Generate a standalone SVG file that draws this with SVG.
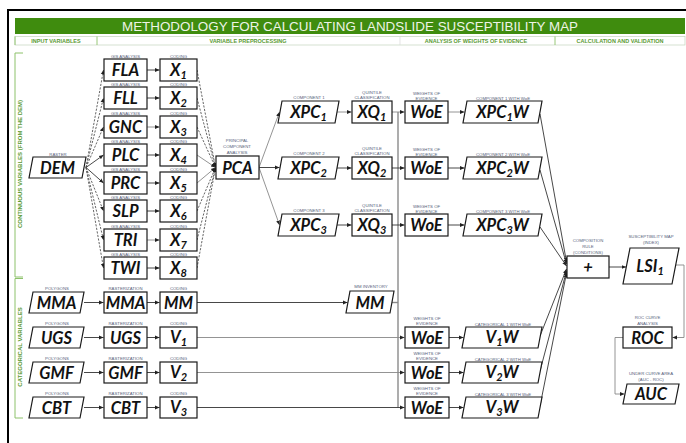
<svg xmlns="http://www.w3.org/2000/svg" width="686" height="443" viewBox="0 0 686 443">
<defs>
<style>
.box{fill:#fff;stroke:#1a1a1a;stroke-width:1.2}
.lbl{font-family:Lato,"Liberation Sans",sans-serif;font-weight:bold;font-style:italic;font-size:16.5px;text-anchor:middle;fill:#111}
.sub{font-size:11px}
.cap{font-family:"Liberation Sans",Arial,sans-serif;font-size:4.3px;text-anchor:middle;fill:#55607a}
.hdr{font-family:"Liberation Sans",Arial,sans-serif;font-weight:bold;font-size:5.5px;text-anchor:middle;fill:#5a9a32}
.side{font-family:"Liberation Sans",Arial,sans-serif;font-weight:bold;font-size:6px;text-anchor:middle;fill:#5a9a32}
.con{fill:none;stroke:#333;stroke-width:0.9;marker-end:url(#ah)}
.dash{stroke-dasharray:2.2 1.4;stroke:#555}
.lt{stroke:#888}
.bus{fill:none;stroke:#8a8a8a;stroke-width:1.4}
</style>
<marker id="ah" markerWidth="5" markerHeight="5" refX="4.5" refY="2.5" orient="auto" markerUnits="userSpaceOnUse">
<path d="M0,0.6 L4.5,2.5 L0,4.4 Z" fill="#222"/>
</marker>
</defs>

<rect x="0" y="0" width="686" height="443" fill="#fff"/>
<rect x="8" y="10" width="690" height="450" fill="none" stroke="#000" stroke-width="2"/>

<g id="title">
<rect x="15" y="18" width="670" height="16" fill="#3f8c0e"/>
<text x="350" y="30.5" font-family="Liberation Sans, Arial, sans-serif" font-size="13.3" fill="#eef4e6" text-anchor="middle" textLength="456" lengthAdjust="spacingAndGlyphs">METHODOLOGY FOR CALCULATING LANDSLIDE SUSCEPTIBILITY MAP</text>
</g>

<g id="header">
<rect x="15" y="36.5" width="670" height="8.5" fill="none" stroke="#c4d4bc" stroke-width="0.7"/>
<path d="M15,36.5 V45 M97,36.5 V45 M555,36.5 V45" stroke="#8dc26a" stroke-width="0.9"/>
<path d="M400,36.5 V45" stroke="#d8d8d8" stroke-width="0.7"/>
<text class="hdr" x="56" y="43">INPUT VARIABLES</text>
<text class="hdr" x="248" y="43">VARIABLE PREPROCESSING</text>
<text class="hdr" x="476" y="43">ANALYSIS OF WEIGHTS OF EVIDENCE</text>
<text class="hdr" x="620" y="43">CALCULATION AND VALIDATION</text>
</g>

<g id="side-labels">
<path d="M23,53 H15 V277 H23" fill="none" stroke="#8dc26a" stroke-width="1"/>
<path d="M23,278.5 H15 V418 H23" fill="none" stroke="#8dc26a" stroke-width="1"/>
<text class="side" transform="translate(22,164) rotate(-90)">CONTINUOUS VARIABLES (FROM THE DEM)</text>
<text class="side" transform="translate(22,347) rotate(-90)">CATEGORICAL VARIABLES</text>
</g>

<g id="connectors">
<path class="con dash" d="M86,167.5 L103.5,70"/>
<path class="con dash" d="M86,167.5 L103.5,98"/>
<path class="con dash" d="M86,167.5 L103.5,127"/>
<path class="con" d="M86,167.5 L103.5,155"/>
<path class="con" d="M86,167.5 L103.5,183"/>
<path class="con dash" d="M86,167.5 L103.5,211"/>
<path class="con dash" d="M86,167.5 L103.5,240"/>
<path class="con dash" d="M86,167.5 L103.5,268"/>
<path class="con" d="M147,70 H159.5"/>
<path class="con" d="M147,98 H159.5"/>
<path class="con lt" d="M147,127 H159.5"/>
<path class="con" d="M147,155 H159.5"/>
<path class="con" d="M147,183 H159.5"/>
<path class="con" d="M147,211 H159.5"/>
<path class="con lt" d="M147,240 H159.5"/>
<path class="con" d="M147,268 H159.5"/>
<path class="con dash" d="M197,70 L215.5,167.5"/>
<path class="con dash" d="M197,98 L215.5,167.5"/>
<path class="con dash" d="M197,127 L215.5,167.5"/>
<path class="con lt" d="M197,155 L215.5,167.5"/>
<path class="con lt" d="M197,183 L215.5,167.5"/>
<path class="con dash" d="M197,211 L215.5,167.5"/>
<path class="con dash" d="M197,240 L215.5,167.5"/>
<path class="con dash" d="M197,268 L215.5,167.5"/>
<path class="con lt" d="M259,167.5 L279.5,112"/>
<path class="con" d="M259,167.5 H279.5"/>
<path class="con lt" d="M259,167.5 L279.5,225"/>
<path class="con lt" d="M337,112 H351.5"/>
<path class="con" d="M337,168 H351.5"/>
<path class="con" d="M337,225 H351.5"/>
<path class="bus" d="M398,112 V407.5"/>
<path class="bus" d="M392,302.5 H398"/>
<path class="con lt" d="M392,112 H404.5"/>
<path class="con" d="M392,168 H404.5"/>
<path class="con" d="M392,225 H404.5"/>
<path class="con lt" d="M448,112 H464.5"/>
<path class="con" d="M448,168 H464.5"/>
<path class="con" d="M448,225 H464.5"/>
<path class="con" d="M84,302.5 H103.5"/>
<path class="con" d="M147,302.5 H159.5"/>
<path class="con" d="M197,302.5 H347.5"/>
<path class="con" d="M84,337.5 H103.5"/>
<path class="con" d="M147,337.5 H159.5"/>
<path class="con lt" d="M197,337.5 H404.5"/>
<path class="con" d="M84,372.5 H103.5"/>
<path class="con" d="M147,372.5 H159.5"/>
<path class="con lt" d="M197,372.5 H404.5"/>
<path class="con" d="M84,407.5 H103.5"/>
<path class="con" d="M147,407.5 H159.5"/>
<path class="con" d="M197,407.5 H404.5"/>
<path class="con" d="M449,337.5 H463.5"/>
<path class="con" d="M449,372.5 H463.5"/>
<path class="con" d="M449,407.5 H463.5"/>
<path class="con" d="M540,114 L566.5,262"/>
<path class="con" d="M540,170 L566.5,264"/>
<path class="con" d="M540,227 L566.5,266"/>
<path class="con" d="M540,336 L566.5,269"/>
<path class="con" d="M540,371 L566.5,271"/>
<path class="con" d="M540,406 L566.5,273"/>
<path class="con" d="M609,267 H626"/>
<path class="con lt" d="M676,265 H684 V337.5 H672.5"/>
<path class="con lt" d="M623,337.5 H615 V394 H624.5"/>
</g>

<g id="DEM">
<text class="cap" x="58" y="155.5">RASTER</text>
<polygon class="box" points="33,157 86,157 82,178 29,178"/>
<text class="lbl" x="57.5" y="173.5">DEM</text>
</g>

<g id="FLA"><text class="cap" x="125.5" y="57.5">GIS ANALYSIS</text><rect class="box" x="104" y="59" width="43" height="22"/><text class="lbl" x="125.5" y="76">FLA</text></g>
<g id="FLL"><text class="cap" x="125.5" y="85.5">GIS ANALYSIS</text><rect class="box" x="104" y="87" width="43" height="22"/><text class="lbl" x="125.5" y="104">FLL</text></g>
<g id="GNC"><text class="cap" x="125.5" y="114.5">GIS ANALYSIS</text><rect class="box" x="104" y="116" width="43" height="22"/><text class="lbl" x="125.5" y="133">GNC</text></g>
<g id="PLC"><text class="cap" x="125.5" y="142.5">GIS ANALYSIS</text><rect class="box" x="104" y="144" width="43" height="22"/><text class="lbl" x="125.5" y="161">PLC</text></g>
<g id="PRC"><text class="cap" x="125.5" y="170.5">GIS ANALYSIS</text><rect class="box" x="104" y="172" width="43" height="22"/><text class="lbl" x="125.5" y="189">PRC</text></g>
<g id="SLP"><text class="cap" x="125.5" y="198.5">GIS ANALYSIS</text><rect class="box" x="104" y="200" width="43" height="22"/><text class="lbl" x="125.5" y="217">SLP</text></g>
<g id="TRI"><text class="cap" x="125.5" y="227.5">GIS ANALYSIS</text><rect class="box" x="104" y="229" width="43" height="22"/><text class="lbl" x="125.5" y="246">TRI</text></g>
<g id="TWI"><text class="cap" x="125.5" y="255.5">GIS ANALYSIS</text><rect class="box" x="104" y="257" width="43" height="22"/><text class="lbl" x="125.5" y="274">TWI</text></g>

<g id="X1"><text class="cap" x="178.5" y="57.5">CODING</text><rect class="box" x="160" y="59" width="37" height="22"/><text class="lbl" x="178.5" y="75.5">X<tspan class="sub" dy="3">1</tspan></text></g>
<g id="X2"><text class="cap" x="178.5" y="85.5">CODING</text><rect class="box" x="160" y="87" width="37" height="22"/><text class="lbl" x="178.5" y="103.5">X<tspan class="sub" dy="3">2</tspan></text></g>
<g id="X3"><text class="cap" x="178.5" y="114.5">CODING</text><rect class="box" x="160" y="116" width="37" height="22"/><text class="lbl" x="178.5" y="132.5">X<tspan class="sub" dy="3">3</tspan></text></g>
<g id="X4"><text class="cap" x="178.5" y="142.5">CODING</text><rect class="box" x="160" y="144" width="37" height="22"/><text class="lbl" x="178.5" y="160.5">X<tspan class="sub" dy="3">4</tspan></text></g>
<g id="X5"><text class="cap" x="178.5" y="170.5">CODING</text><rect class="box" x="160" y="172" width="37" height="22"/><text class="lbl" x="178.5" y="188.5">X<tspan class="sub" dy="3">5</tspan></text></g>
<g id="X6"><text class="cap" x="178.5" y="198.5">CODING</text><rect class="box" x="160" y="200" width="37" height="22"/><text class="lbl" x="178.5" y="216.5">X<tspan class="sub" dy="3">6</tspan></text></g>
<g id="X7"><text class="cap" x="178.5" y="227.5">CODING</text><rect class="box" x="160" y="229" width="37" height="22"/><text class="lbl" x="178.5" y="245.5">X<tspan class="sub" dy="3">7</tspan></text></g>
<g id="X8"><text class="cap" x="178.5" y="255.5">CODING</text><rect class="box" x="160" y="257" width="37" height="22"/><text class="lbl" x="178.5" y="273.5">X<tspan class="sub" dy="3">8</tspan></text></g>

<g id="PCA">
<text class="cap" x="237" y="142.3">PRINCIPAL</text>
<text class="cap" x="237" y="148.3">COMPONENT</text>
<text class="cap" x="237" y="154.2">ANALYSIS</text>
<rect class="box" x="216" y="156" width="43" height="23"/>
<text class="lbl" x="237.5" y="173.5">PCA</text>
</g>

<g id="XPC1"><text class="cap" x="309" y="99">COMPONENT 1</text><polygon class="box" points="282,101 339,101 335,123 278,123"/><text class="lbl" x="308.5" y="117.5">XPC<tspan class="sub" dy="3">1</tspan></text></g>
<g id="XPC2"><text class="cap" x="309" y="155">COMPONENT 2</text><polygon class="box" points="282,157 339,157 335,179 278,179"/><text class="lbl" x="308.5" y="173.5">XPC<tspan class="sub" dy="3">2</tspan></text></g>
<g id="XPC3"><text class="cap" x="309" y="212">COMPONENT 3</text><polygon class="box" points="282,214 339,214 335,236 278,236"/><text class="lbl" x="308.5" y="230.5">XPC<tspan class="sub" dy="3">3</tspan></text></g>

<g id="XQ1"><text class="cap" x="372" y="93.5">QUINTILE</text><text class="cap" x="372" y="99">CLASSIFICATION</text><rect class="box" x="352" y="101" width="40" height="22"/><text class="lbl" x="372" y="117.5">XQ<tspan class="sub" dy="3">1</tspan></text></g>
<g id="XQ2"><text class="cap" x="372" y="149.5">QUINTILE</text><text class="cap" x="372" y="155">CLASSIFICATION</text><rect class="box" x="352" y="157" width="40" height="22"/><text class="lbl" x="372" y="173.5">XQ<tspan class="sub" dy="3">2</tspan></text></g>
<g id="XQ3"><text class="cap" x="372" y="206.5">QUINTILE</text><text class="cap" x="372" y="212">CLASSIFICATION</text><rect class="box" x="352" y="214" width="40" height="22"/><text class="lbl" x="372" y="230.5">XQ<tspan class="sub" dy="3">3</tspan></text></g>

<g id="WoE1"><text class="cap" x="426.5" y="94.5">WEIGHTS OF</text><text class="cap" x="426.5" y="100">EVIDENCE</text><rect class="box" x="405" y="101" width="43" height="22"/><text class="lbl" x="426.5" y="118">WoE</text></g>
<g id="WoE2"><text class="cap" x="426.5" y="150.5">WEIGHTS OF</text><text class="cap" x="426.5" y="156">EVIDENCE</text><rect class="box" x="405" y="157" width="43" height="22"/><text class="lbl" x="426.5" y="174">WoE</text></g>
<g id="WoE3"><text class="cap" x="426.5" y="207.5">WEIGHTS OF</text><text class="cap" x="426.5" y="213">EVIDENCE</text><rect class="box" x="405" y="214" width="43" height="22"/><text class="lbl" x="426.5" y="231">WoE</text></g>

<g id="XPC1W"><text class="cap" x="503" y="99.5">COMPONENT 1 WITH WoE</text><polygon class="box" points="467,101 542,101 538,123 463,123"/><text class="lbl" x="502.5" y="117.5">XPC<tspan class="sub" dy="3">1</tspan><tspan dy="-3">W</tspan></text></g>
<g id="XPC2W"><text class="cap" x="503" y="155.5">COMPONENT 2 WITH WoE</text><polygon class="box" points="467,157 542,157 538,179 463,179"/><text class="lbl" x="502.5" y="173.5">XPC<tspan class="sub" dy="3">2</tspan><tspan dy="-3">W</tspan></text></g>
<g id="XPC3W"><text class="cap" x="503" y="212.5">COMPONENT 3 WITH WoE</text><polygon class="box" points="467,214 542,214 538,236 463,236"/><text class="lbl" x="502.5" y="230.5">XPC<tspan class="sub" dy="3">3</tspan><tspan dy="-3">W</tspan></text></g>

<g id="MMA-poly"><text class="cap" x="57" y="290">POLYGONS</text><polygon class="box" points="33,292 84,292 80,313 29,313"/><text class="lbl" x="56.5" y="308.5">MMA</text></g>
<g id="UGS-poly"><text class="cap" x="57" y="325">POLYGONS</text><polygon class="box" points="33,327 84,327 80,348 29,348"/><text class="lbl" x="56.5" y="343.5">UGS</text></g>
<g id="GMF-poly"><text class="cap" x="57" y="360">POLYGONS</text><polygon class="box" points="33,362 84,362 80,383 29,383"/><text class="lbl" x="56.5" y="378.5">GMF</text></g>
<g id="CBT-poly"><text class="cap" x="57" y="395">POLYGONS</text><polygon class="box" points="33,397 84,397 80,418 29,418"/><text class="lbl" x="56.5" y="413.5">CBT</text></g>

<g id="MMA-raster"><text class="cap" x="125.5" y="290">RASTERIZATION</text><rect class="box" x="104" y="292" width="43" height="21"/><text class="lbl" x="125.5" y="308.5">MMA</text></g>
<g id="UGS-raster"><text class="cap" x="125.5" y="325">RASTERIZATION</text><rect class="box" x="104" y="327" width="43" height="21"/><text class="lbl" x="125.5" y="343.5">UGS</text></g>
<g id="GMF-raster"><text class="cap" x="125.5" y="360">RASTERIZATION</text><rect class="box" x="104" y="362" width="43" height="21"/><text class="lbl" x="125.5" y="378.5">GMF</text></g>
<g id="CBT-raster"><text class="cap" x="125.5" y="395">RASTERIZATION</text><rect class="box" x="104" y="397" width="43" height="21"/><text class="lbl" x="125.5" y="413.5">CBT</text></g>

<g id="MM-coding"><text class="cap" x="178.5" y="290">CODING</text><rect class="box" x="160" y="292" width="37" height="21"/><text class="lbl" x="178.5" y="308.5">MM</text></g>
<g id="V1"><text class="cap" x="178.5" y="325">CODING</text><rect class="box" x="160" y="327" width="37" height="21"/><text class="lbl" x="178.5" y="343">V<tspan class="sub" dy="3">1</tspan></text></g>
<g id="V2"><text class="cap" x="178.5" y="360">CODING</text><rect class="box" x="160" y="362" width="37" height="21"/><text class="lbl" x="178.5" y="378">V<tspan class="sub" dy="3">2</tspan></text></g>
<g id="V3"><text class="cap" x="178.5" y="395">CODING</text><rect class="box" x="160" y="397" width="37" height="21"/><text class="lbl" x="178.5" y="413">V<tspan class="sub" dy="3">3</tspan></text></g>

<g id="MM-inventory"><text class="cap" x="371" y="288">MM INVENTORY</text><polygon class="box" points="350,291 394,291 390,313 346,313"/><text class="lbl" x="370" y="308.5">MM</text></g>

<g id="WoE4"><text class="cap" x="427" y="319.5">WEIGHTS OF</text><text class="cap" x="427" y="325">EVIDENCE</text><rect class="box" x="405" y="327" width="44" height="21"/><text class="lbl" x="427" y="343.5">WoE</text></g>
<g id="WoE5"><text class="cap" x="427" y="354.5">WEIGHTS OF</text><text class="cap" x="427" y="360">EVIDENCE</text><rect class="box" x="405" y="362" width="44" height="21"/><text class="lbl" x="427" y="378.5">WoE</text></g>
<g id="WoE6"><text class="cap" x="427" y="389.5">WEIGHTS OF</text><text class="cap" x="427" y="395">EVIDENCE</text><rect class="box" x="405" y="397" width="44" height="21"/><text class="lbl" x="427" y="413.5">WoE</text></g>

<g id="V1W"><text class="cap" x="503" y="325.5">CATEGORICAL 1 WITH WoE</text><polygon class="box" points="466,327 542,327 538,348 462,348"/><text class="lbl" x="502" y="343">V<tspan class="sub" dy="3">1</tspan><tspan dy="-3">W</tspan></text></g>
<g id="V2W"><text class="cap" x="503" y="360.5">CATEGORICAL 2 WITH WoE</text><polygon class="box" points="466,362 542,362 538,383 462,383"/><text class="lbl" x="502" y="378">V<tspan class="sub" dy="3">2</tspan><tspan dy="-3">W</tspan></text></g>
<g id="V3W"><text class="cap" x="503" y="395.5">CATEGORICAL 3 WITH WoE</text><polygon class="box" points="466,397 542,397 538,418 462,418"/><text class="lbl" x="502" y="413">V<tspan class="sub" dy="3">3</tspan><tspan dy="-3">W</tspan></text></g>

<g id="composition">
<text class="cap" x="588" y="241.5">COMPOSITION</text>
<text class="cap" x="588" y="247.5">RULE</text>
<text class="cap" x="588" y="253.5">(CONDITIONS)</text>
<rect class="box" x="567" y="256" width="42" height="22"/>
<text class="lbl" x="588" y="273" font-style="normal">+</text>
</g>

<g id="LSI">
<text class="cap" x="651" y="237.5">SUSCEPTIBILITY MAP</text>
<text class="cap" x="651" y="243.5">(INDEX)</text>
<polygon class="box" points="630,248 679,248 672,284 623,284"/>
<text class="lbl" x="650" y="271.5">LSI<tspan class="sub" dy="3">1</tspan></text>
</g>

<g id="ROC">
<text class="cap" x="647.5" y="318.5">ROC CURVE</text>
<text class="cap" x="647.5" y="324.5">ANALYSIS</text>
<rect class="box" x="623" y="327" width="49" height="21"/>
<text class="lbl" x="647.5" y="343.5">ROC</text>
</g>

<g id="AUC">
<text class="cap" x="651" y="374.5">UNDER CURVE AREA</text>
<text class="cap" x="651" y="380.5">(AUC - ROC)</text>
<polygon class="box" points="627,384 679,384 675,404 623,404"/>
<text class="lbl" x="651" y="400">AUC</text>
</g>
</svg>
